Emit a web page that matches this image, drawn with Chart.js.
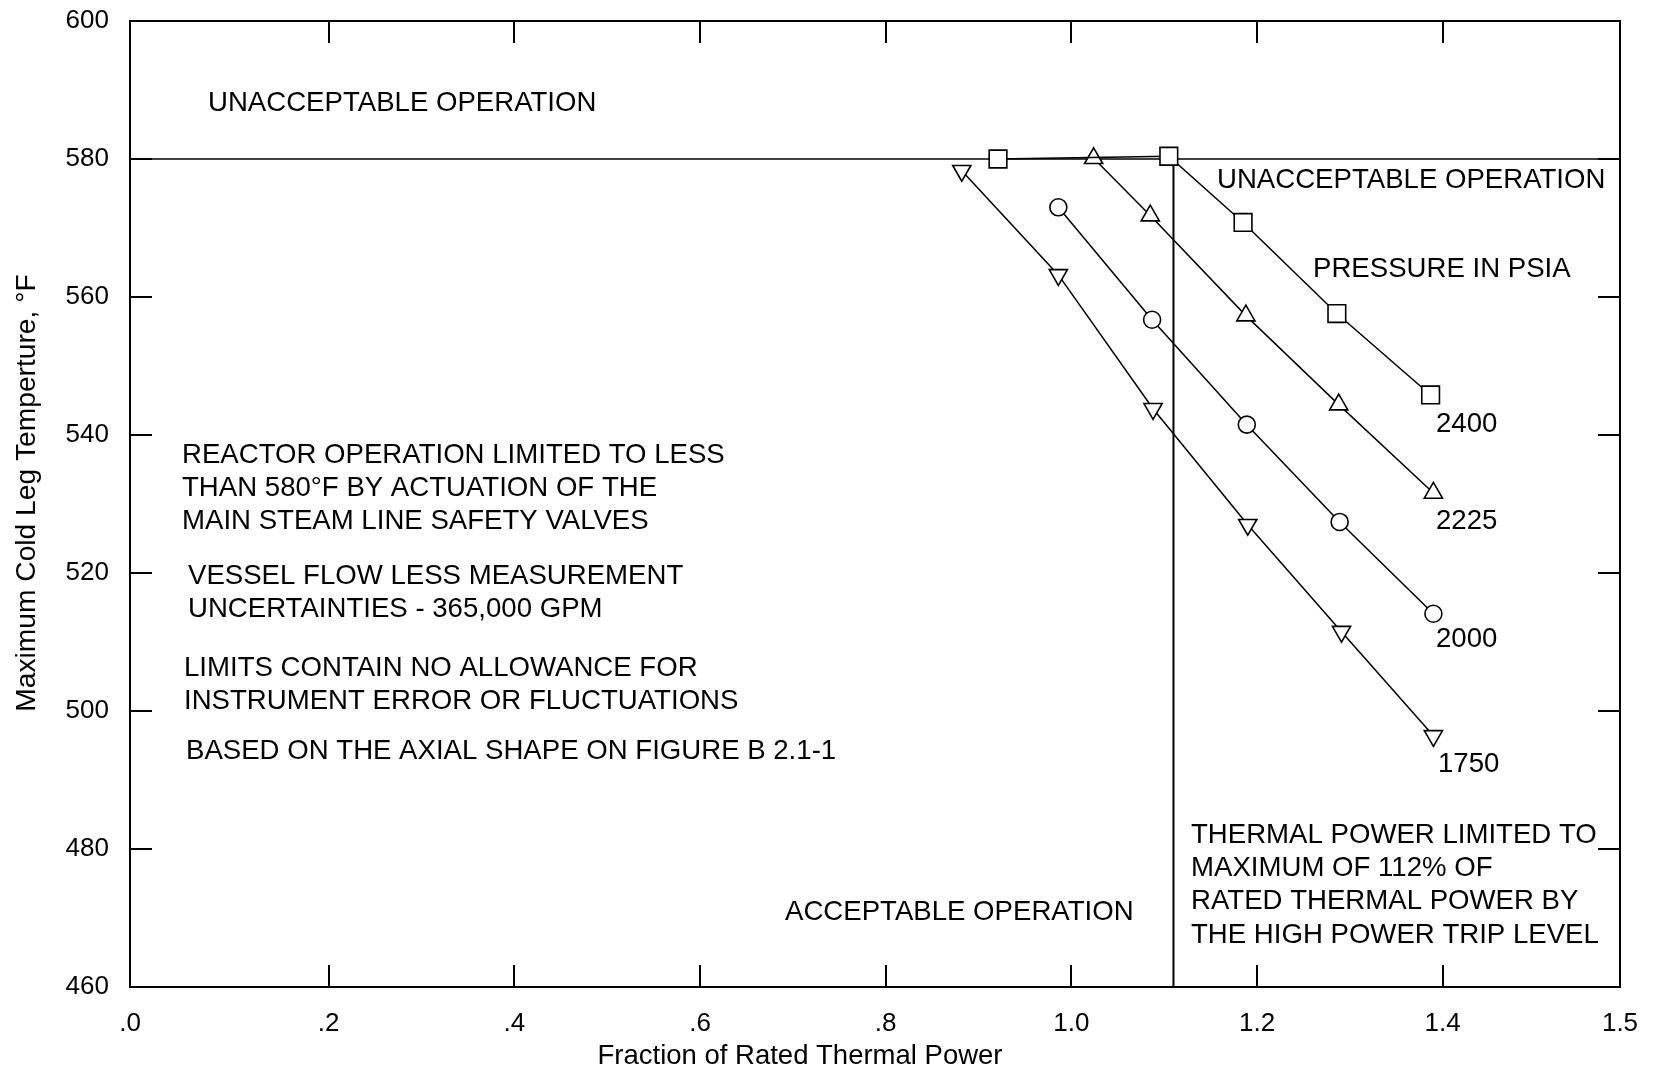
<!DOCTYPE html>
<html><head><meta charset="utf-8">
<script src="https://cdn.jsdelivr.net/npm/chart.js@4.4.0/dist/chart.umd.min.js"></script>
<style>html,body{margin:0;padding:0;background:#fff;}canvas{display:block;}</style>
</head><body>
<canvas id="c" width="1656" height="1072"></canvas>
<script>
// ---- data ----
const pressureLabels = ['2400', '2225', '2000', '1750'];
const power2400 = [0.921, 1.105, 1.185, 1.286, 1.387];
const temp2400  = [580.0, 580.4, 570.8, 557.6, 545.8];
const power2225 = [1.024, 1.085, 1.188, 1.288, 1.390];
const temp2225  = [580.1, 571.8, 557.3, 544.4, 531.6];
const power2000 = [0.986, 1.087, 1.189, 1.289, 1.390];
const temp2000  = [573.0, 556.7, 541.5, 527.4, 514.1];
const power1750 = [0.882, 0.986, 1.088, 1.190, 1.291, 1.390];
const temp1750  = [578.3, 563.2, 543.8, 527.0, 511.5, 496.4];
const tempLimit = 580;      // main steam safety valve limit
const powerLimit = 1.11;    // high power trip line
// scanned axis: frame runs slightly past 0 on the left and well past 1.4 on the right (labelled 1.5)
const xAxisMin = -0.014;
const xAxisMax = 1.591;
const xTickInner = [0.2, 0.4, 0.6, 0.8, 1.0, 1.2, 1.4];
const xTickLabels = ['.0', '.2', '.4', '.6', '.8', '1.0', '1.2', '1.4', '1.5'];
const yAxisMin = 460, yAxisMax = 600, yStep = 20;

const FONT = '"Liberation Sans", Arial, Helvetica, sans-serif';
const pts = (xs, ys) => xs.map((x, i) => ({x, y: ys[i]}));

const curveStyle = {showLine: true, borderColor: '#000', borderWidth: 1.5,
  pointBackgroundColor: '#fff', pointBorderColor: '#000', pointBorderWidth: 1.6, order: 0};

const datasets = [
  {label: 'limit580', data: [{x: xAxisMin, y: tempLimit}, {x: xAxisMax, y: tempLimit}],
   showLine: true, borderColor: '#000', borderWidth: 1.6, pointRadius: 0, order: 10},
  {label: 'trip', data: [{x: powerLimit, y: tempLimit}, {x: powerLimit, y: yAxisMin}],
   showLine: true, borderColor: '#000', borderWidth: 2, pointRadius: 0, order: 10},
  Object.assign({label: pressureLabels[0], data: pts(power2400, temp2400), pointStyle: 'rect', pointRadius: 12.5}, curveStyle),
  Object.assign({label: pressureLabels[1], data: pts(power2225, temp2225), pointStyle: 'triangle', pointRadius: 10.5}, curveStyle),
  Object.assign({label: pressureLabels[2], data: pts(power2000, temp2000), pointStyle: 'circle', pointRadius: 8.5}, curveStyle),
  Object.assign({label: pressureLabels[3], data: pts(power1750, temp1750), pointStyle: 'triangle', pointRotation: 180, pointRadius: 10.5}, curveStyle),
];

const notes = [
  {lines: ['UNACCEPTABLE OPERATION'], x: 208, y: 103},
  {lines: ['UNACCEPTABLE OPERATION'], x: 1217, y: 180},
  {lines: ['PRESSURE IN PSIA'], x: 1313, y: 269},
  {lines: [pressureLabels[0]], x: 1436, y: 424},
  {lines: [pressureLabels[1]], x: 1436, y: 521},
  {lines: [pressureLabels[2]], x: 1436, y: 639},
  {lines: [pressureLabels[3]], x: 1438, y: 764},
  {lines: ['REACTOR OPERATION LIMITED TO LESS', 'THAN 580\u00B0F BY ACTUATION OF THE', 'MAIN STEAM LINE SAFETY VALVES'], x: 182, y: 455},
  {lines: ['VESSEL FLOW LESS MEASUREMENT', 'UNCERTAINTIES - 365,000 GPM'], x: 188, y: 576},
  {lines: ['LIMITS CONTAIN NO ALLOWANCE FOR', 'INSTRUMENT ERROR OR FLUCTUATIONS'], x: 184, y: 668},
  {lines: ['BASED ON THE AXIAL SHAPE ON FIGURE B 2.1-1'], x: 186, y: 751},
  {lines: ['ACCEPTABLE OPERATION'], x: 785, y: 912},
  {lines: ['THERMAL POWER LIMITED TO', 'MAXIMUM OF 112% OF', 'RATED THERMAL POWER BY', 'THE HIGH POWER TRIP LEVEL'], x: 1191, y: 835},
];

const decor = {
  id: 'decor',
  beforeDraw(chart) {
    const c = chart.ctx;
    c.save(); c.fillStyle = '#fff'; c.fillRect(0, 0, chart.width, chart.height); c.restore();
  },
  afterDraw(chart) {
    const c = chart.ctx, a = chart.chartArea, xs = chart.scales.x, ys = chart.scales.y;
    c.save();
    c.strokeStyle = '#000';
    c.lineWidth = 2;
    c.strokeRect(a.left, a.top, a.right - a.left, a.bottom - a.top);
    const tl = 22;
    c.beginPath();
    xTickInner.forEach(v => {
      const px = Math.round(xs.getPixelForValue(v));
      c.moveTo(px, a.bottom); c.lineTo(px, a.bottom - tl);
      c.moveTo(px, a.top); c.lineTo(px, a.top + tl);
    });
    for (let v = yAxisMin + yStep; v < yAxisMax; v += yStep) {
      const py = Math.round(ys.getPixelForValue(v));
      c.moveTo(a.left, py); c.lineTo(a.left + tl, py);
      c.moveTo(a.right, py); c.lineTo(a.right - tl, py);
    }
    c.stroke();
    // annotations
    c.fillStyle = '#000';
    c.font = '27.6px ' + FONT;
    c.textAlign = 'left';
    c.textBaseline = 'middle';
    notes.forEach(n => n.lines.forEach((t, i) => c.fillText(t, n.x, n.y + i * 33.3)));
    // axis titles
    c.font = '27.5px ' + FONT;
    c.textAlign = 'center';
    c.fillText('Fraction of Rated Thermal Power', 800, 1056);
    c.translate(27, 493);
    c.rotate(-Math.PI / 2);
    c.font = '28.2px ' + FONT;
    c.fillText('Maximum Cold Leg Temperture, \u00B0F', 0, 0);
    c.restore();
  }
};

new Chart(document.getElementById('c'), {
  type: 'scatter',
  data: {datasets},
  options: {
    responsive: false, animation: false, devicePixelRatio: 1,
    layout: {padding: {top: 21, right: 36, left: 0, bottom: 0}},
    plugins: {legend: {display: false}, tooltip: {enabled: false}},
    scales: {
      x: {
        type: 'linear', min: xAxisMin, max: xAxisMax,
        grid: {display: false, drawTicks: false}, border: {display: false},
        afterBuildTicks(s) { s.ticks = [xAxisMin, ...xTickInner, xAxisMax].map(v => ({value: v})); },
        afterFit(s) { s.height = 85; s.paddingLeft = 0; s.paddingRight = 0; },
        ticks: {color: '#000', font: {family: FONT, size: 26}, padding: 21, maxRotation: 0, autoSkip: false,
                callback: (v, i) => xTickLabels[i]}
      },
      y: {
        type: 'linear', min: yAxisMin, max: yAxisMax,
        grid: {display: false, drawTicks: false}, border: {display: false},
        afterFit(s) { s.width = 130; s.paddingTop = 0; s.paddingBottom = 0; },
        ticks: {color: '#000', font: {family: FONT, size: 26}, padding: 21, stepSize: yStep}
      }
    }
  },
  plugins: [decor]
});
</script>
</body></html>
